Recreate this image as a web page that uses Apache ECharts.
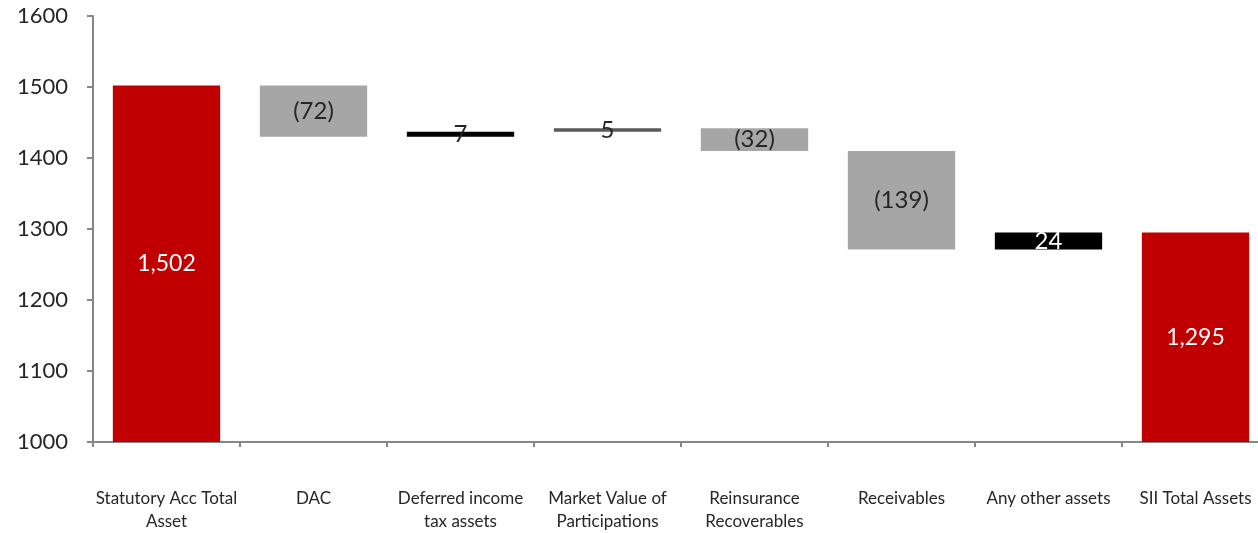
<!DOCTYPE html>
<html>
<head>
<meta charset="utf-8">
<script src="https://cdn.jsdelivr.net/npm/echarts@6/dist/echarts.min.js"></script>
<style>
  html, body { margin: 0; padding: 0; background: #fff; overflow: hidden; }
  /* plot area runs slightly past the right edge of the window */
  #chart { width: 1290px; height: 533px; }
</style>
</head>
<body>
<div id="chart"></div>
<script>
// Asset bridge: statutory total -> Solvency II total
const categories = [
  'Statutory Acc Total\nAsset', 'DAC', 'Deferred income\ntax assets', 'Market Value of\nParticipations',
  'Reinsurance\nRecoverables', 'Receivables', 'Any other assets', 'SII Total Assets'
];
// 'total' bars start at the axis floor; 'delta' bars float on the running sum
const kinds  = ['total', 'delta', 'delta', 'delta', 'delta', 'delta', 'delta', 'total'];
const values = [1502, -72, 7, 5, -32, -139, 24, 1295];
const barColors = ['#C00000', '#A6A6A6', '#000000', '#595959', '#A6A6A6', '#A6A6A6', '#000000', '#C00000'];
const labelColors = ['#FFFFFF', '#262626', '#262626', '#262626', '#262626', '#262626', '#FFFFFF', '#FFFFFF'];
const yTicks = [1000, 1100, 1200, 1300, 1400, 1500, 1600];

// Build invisible base + visible segment for the stacked waterfall
const base = [], visible = [];
let running = 0;
values.forEach((v, i) => {
  if (kinds[i] === 'total') {
    base.push(0);
    visible.push(v);
    running = v;
  } else {
    const next = running + v;
    base.push(Math.min(running, next));
    visible.push(Math.abs(v));
    running = next;
  }
});

function fmt(v, i) {
  if (kinds[i] === 'total') return v.toLocaleString('en-US');
  return v < 0 ? '(' + Math.abs(v) + ')' : String(v);
}

const FONT = 'Lato';
const chart = echarts.init(document.getElementById('chart'), null, { renderer: 'canvas' });
chart.setOption({
  animation: false,
  backgroundColor: '#ffffff',
  grid: { left: 93, top: 16, width: 1176, height: 427, containLabel: false },
  xAxis: {
    type: 'category',
    data: categories,
    axisLine: { lineStyle: { color: '#868686', width: 2 } },
    axisTick: { show: true, length: 5, lineStyle: { color: '#868686', width: 2 } },
    axisLabel: {
      margin: 45, interval: 0, color: '#262626', fontFamily: FONT, fontSize: 17, lineHeight: 23
    }
  },
  yAxis: {
    type: 'value',
    min: yTicks[0], max: yTicks[yTicks.length - 1], interval: 100,
    splitLine: { show: false },
    axisLine: { show: true, lineStyle: { color: '#868686', width: 2 } },
    axisTick: { show: true, length: 6, lineStyle: { color: '#868686', width: 2 } },
    axisLabel: {
      margin: 25, color: '#262626', fontFamily: FONT, fontSize: 22,
      formatter: v => String(v)
    }
  },
  series: [
    {
      type: 'bar', stack: 'wf', barWidth: '73%',
      itemStyle: { color: 'transparent' },
      emphasis: { disabled: true },
      data: base
    },
    {
      type: 'bar', stack: 'wf', barWidth: '73%',
      data: visible.map((h, i) => ({
        value: h,
        itemStyle: { color: barColors[i] },
        label: {
          show: true, position: 'inside',
          formatter: () => fmt(values[i], i),
          color: labelColors[i], fontFamily: FONT,
          fontSize: kinds[i] === 'total' ? 23 : 24
        }
      }))
    }
  ]
});
</script>
</body>
</html>
